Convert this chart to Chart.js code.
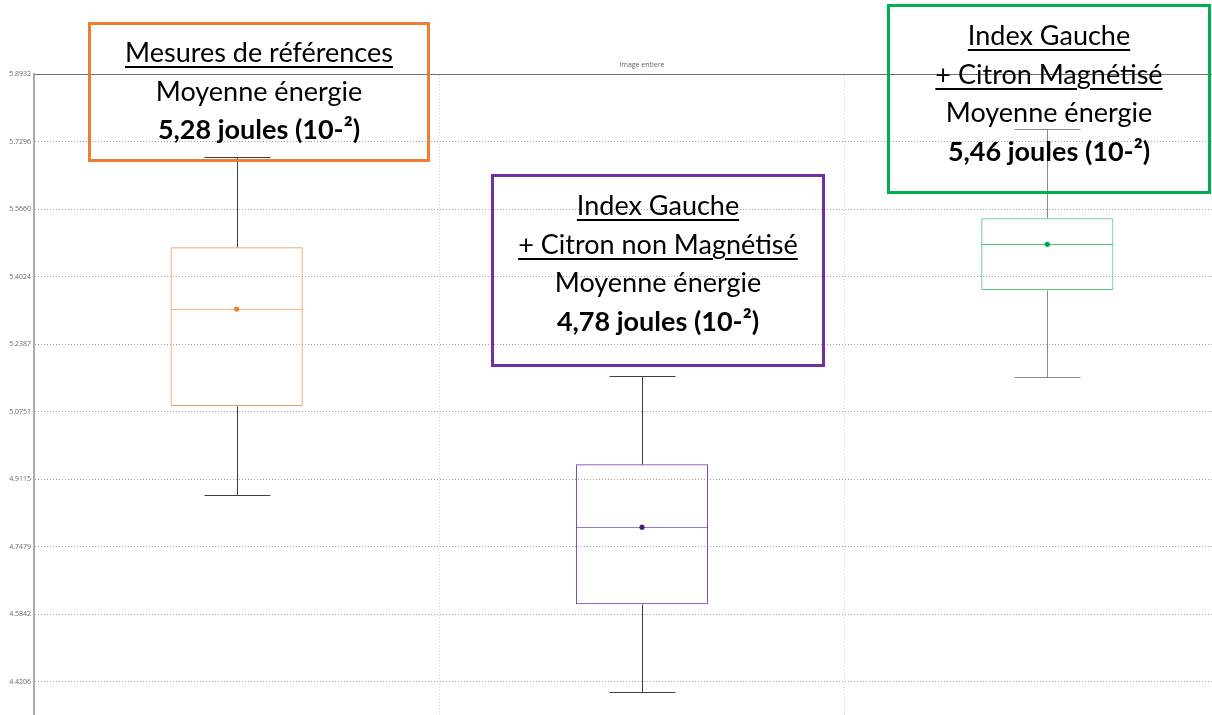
<!DOCTYPE html>
<html lang="fr">
<head>
    <meta charset="UTF-8">
    <title>Image entiere</title>
    <script src="https://cdn.jsdelivr.net/npm/chart.js"></script>
    <style>
        html, body {
            margin: 0;
            padding: 0;
            overflow: hidden;
            background: #fff;
        }

        #wrap {
            position: relative;
            width: 1254px;
            height: 722px;
        }

        .note {
            position: absolute;
            box-sizing: border-box;
            border: 3px solid;
            text-align: center;
            font-family: 'Lato', sans-serif;
            font-size: 27px;
            line-height: 38.5px;
            color: #000;
            pointer-events: none;
        }

        .note .u {
            text-decoration: underline;
            text-decoration-thickness: 2px;
            text-underline-offset: 4px;
        }

        .note .b {
            font-weight: bold;
        }
    </style>
</head>
<body>
    <div id="wrap">
        <canvas id="boxChart"></canvas>

        <!-- encadrés -->
        <div class="note" style="left:88px; top:22px; width:342px; height:140px; border-color:#ED7D31; padding-top:8px;">
            <div class="u">Mesures de références</div>
            <div>Moyenne énergie</div>
            <div class="b">5,28 joules (10-²)</div>
        </div>
        <div class="note" style="left:491px; top:174px; width:334px; height:193px; border-color:#7030A0; padding-top:9px;">
            <div class="u">Index Gauche</div>
            <div class="u">+ Citron non Magnétisé</div>
            <div>Moyenne énergie</div>
            <div class="b">4,78 joules (10-²)</div>
        </div>
        <div class="note" style="left:887px; top:4px; width:324px; height:190px; border-color:#00B050; padding-top:9px;">
            <div class="u">Index Gauche</div>
            <div class="u">+ Citron Magnétisé</div>
            <div>Moyenne énergie</div>
            <div class="b">5,46 joules (10-²)</div>
        </div>
    </div>

    <script>
        // Données
        const categories = ['Mesures de références', 'Index Gauche + Citron non Magnétisé', 'Index Gauche + Citron Magnétisé'];
        const whiskerMin = [4.8731, 4.3948, 5.1590];
        const q1 = [5.0895, 4.6090, 5.3705];
        const median = [5.3245, 4.7955, 5.4813];
        const q3 = [5.4740, 4.9482, 5.5443];
        const whiskerMax = [5.6921, 5.1629, 5.7599];
        const means = [5.3245, 4.7955, 5.4813];
        const yTicks = [5.8932, 5.7296, 5.5660, 5.4024, 5.2387, 5.0751, 4.9115, 4.7479, 4.5842, 4.4206];

        // Couleurs
        const boxColors = ['#EE9A55', '#7840A6', '#5CC682'];
        const medianColors = ['#F4BC8C', '#9C7CBA', '#4DBE74'];
        const meanColors = ['#ED7D31', '#4B1F6F', '#00A550'];
        const whiskerColors = ['#3f3f3f', '#3f3f3f', '#8a8a8a'];

        // moustaches + médianes, dessinées sous les boîtes
        const whiskerPlugin = {
            id: 'whiskers',
            beforeDatasetsDraw(chart) {
                const ctx = chart.ctx;
                const y = chart.scales.y;
                const bars = chart.getDatasetMeta(0).data;
                bars.forEach((bar, i) => {
                    const cx = Math.round(bar.x) + 0.5;
                    const half = bar.width / 2;
                    const cap = bar.width / 4;
                    const py = v => Math.round(y.getPixelForValue(v)) + 0.5;
                    ctx.save();
                    ctx.lineWidth = 1;
                    ctx.strokeStyle = whiskerColors[i];
                    ctx.beginPath();
                    ctx.moveTo(cx, py(whiskerMax[i]));
                    ctx.lineTo(cx, py(q3[i]));
                    ctx.moveTo(cx, py(q1[i]));
                    ctx.lineTo(cx, py(whiskerMin[i]));
                    ctx.moveTo(cx - cap, py(whiskerMax[i]));
                    ctx.lineTo(cx + cap, py(whiskerMax[i]));
                    ctx.moveTo(cx - cap, py(whiskerMin[i]));
                    ctx.lineTo(cx + cap, py(whiskerMin[i]));
                    ctx.stroke();
                    ctx.strokeStyle = medianColors[i];
                    ctx.beginPath();
                    ctx.moveTo(bar.x - half, py(median[i]));
                    ctx.lineTo(bar.x + half, py(median[i]));
                    ctx.stroke();
                    ctx.restore();
                });
            }
        };

        new Chart(document.getElementById('boxChart'), {
            type: 'bar',
            data: {
                labels: categories,
                datasets: [
                    {
                        label: 'Boîtes',
                        data: q1.map((v, i) => [v, q3[i]]),
                        backgroundColor: 'rgba(255,255,255,0)',
                        borderColor: boxColors,
                        borderWidth: 1,
                        borderSkipped: false,
                        categoryPercentage: 1,
                        barPercentage: 0.326
                    },
                    {
                        type: 'line',
                        label: 'Moyenne',
                        data: means,
                        showLine: false,
                        pointRadius: 2.6,
                        pointBorderWidth: 0,
                        pointBackgroundColor: meanColors
                    }
                ]
            },
            options: {
                responsive: true,
                maintainAspectRatio: false,
                animation: false,
                layout: { padding: { top: 61, left: 0, right: 0, bottom: 0 } },
                plugins: {
                    legend: { display: false },
                    tooltip: { enabled: false },
                    title: {
                        display: true,
                        text: 'Image entiere',
                        fullSize: false,
                        color: '#666',
                        font: { family: 'Open Sans', size: 7, weight: 'normal' },
                        padding: { top: 0, bottom: 5 }
                    }
                },
                scales: {
                    x: {
                        position: 'top',
                        ticks: { display: false },
                        grid: { color: '#d4d4d4', drawTicks: false, offset: true },
                        border: { display: true, color: '#6e6e6e', width: 1, dash: [1, 2] }
                    },
                    y: {
                        min: 4.3407,
                        max: 5.8932,
                        afterBuildTicks: scale => {
                            scale.ticks = yTicks.map(v => ({ value: v }));
                        },
                        afterFit: scale => {
                            scale.width = 34;
                        },
                        ticks: {
                            padding: 3,
                            color: '#6a6a6a',
                            font: { family: 'Open Sans', size: 7 },
                            callback: v => v.toFixed(4)
                        },
                        grid: { color: '#a8a8a8', drawTicks: false },
                        border: { display: true, color: '#ababab', width: 2, dash: [1, 2] }
                    }
                }
            },
            plugins: [whiskerPlugin]
        });
    </script>
</body>
</html>
